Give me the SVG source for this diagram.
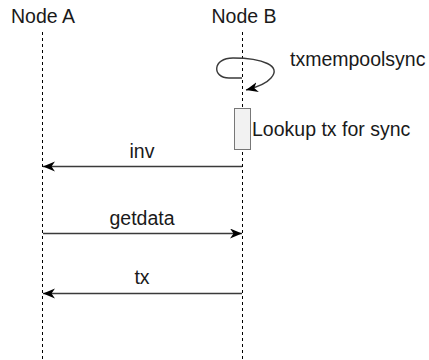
<svg xmlns="http://www.w3.org/2000/svg" width="429" height="360" viewBox="0 0 429 360">
  <style>
    text { font-family: "Liberation Sans", Arial, Helvetica, sans-serif; font-size: 19.5px; fill: #1a1a1a; }
    .life { stroke: #000; stroke-width: 1; stroke-dasharray: 3 3; fill: none; }
    .msg { stroke: #3a3a3a; stroke-width: 1.4; fill: none; }
    .mid { text-anchor: middle; }
  </style>
  <defs>
    <marker id="arr" markerWidth="14" markerHeight="12" refX="12" refY="5" orient="auto" markerUnits="userSpaceOnUse">
      <path d="M0,0 L12,5 L0,10 L3.5,5 Z" fill="#000"/>
    </marker>
  </defs>
  <rect width="429" height="360" fill="#fff"/>
  <g id="nodeA">
    <text class="mid" x="43" y="23">Node A</text>
    <line class="life" x1="42.5" y1="32" x2="42.5" y2="360"/>
  </g>
  <g id="nodeB">
    <text class="mid" x="244" y="23">Node B</text>
    <line class="life" x1="242.5" y1="32" x2="242.5" y2="360"/>
  </g>
  <g id="activation">
    <rect x="234.5" y="108.5" width="16" height="41" fill="#f2f2f2" stroke="#777" stroke-width="1"/>
    <text x="252" y="136">Lookup tx for sync</text>
  </g>
  <g id="connectors">
    <path class="msg" d="M242,78 L229,78 C212,78 212,58 233,58 C263,58 282,66 271,78 C266,84 258,87 246,90" marker-end="url(#arr)"/>
    <text x="290" y="66">txmempoolsync</text>
    <line class="msg" x1="242" y1="166.5" x2="43" y2="166.5" marker-end="url(#arr)"/>
    <text class="mid" x="142" y="158">inv</text>
    <line class="msg" x1="43" y1="233.5" x2="242" y2="233.5" marker-end="url(#arr)"/>
    <text class="mid" x="142" y="225">getdata</text>
    <line class="msg" x1="242" y1="293.5" x2="43" y2="293.5" marker-end="url(#arr)"/>
    <text class="mid" x="142" y="284">tx</text>
  </g>
</svg>
